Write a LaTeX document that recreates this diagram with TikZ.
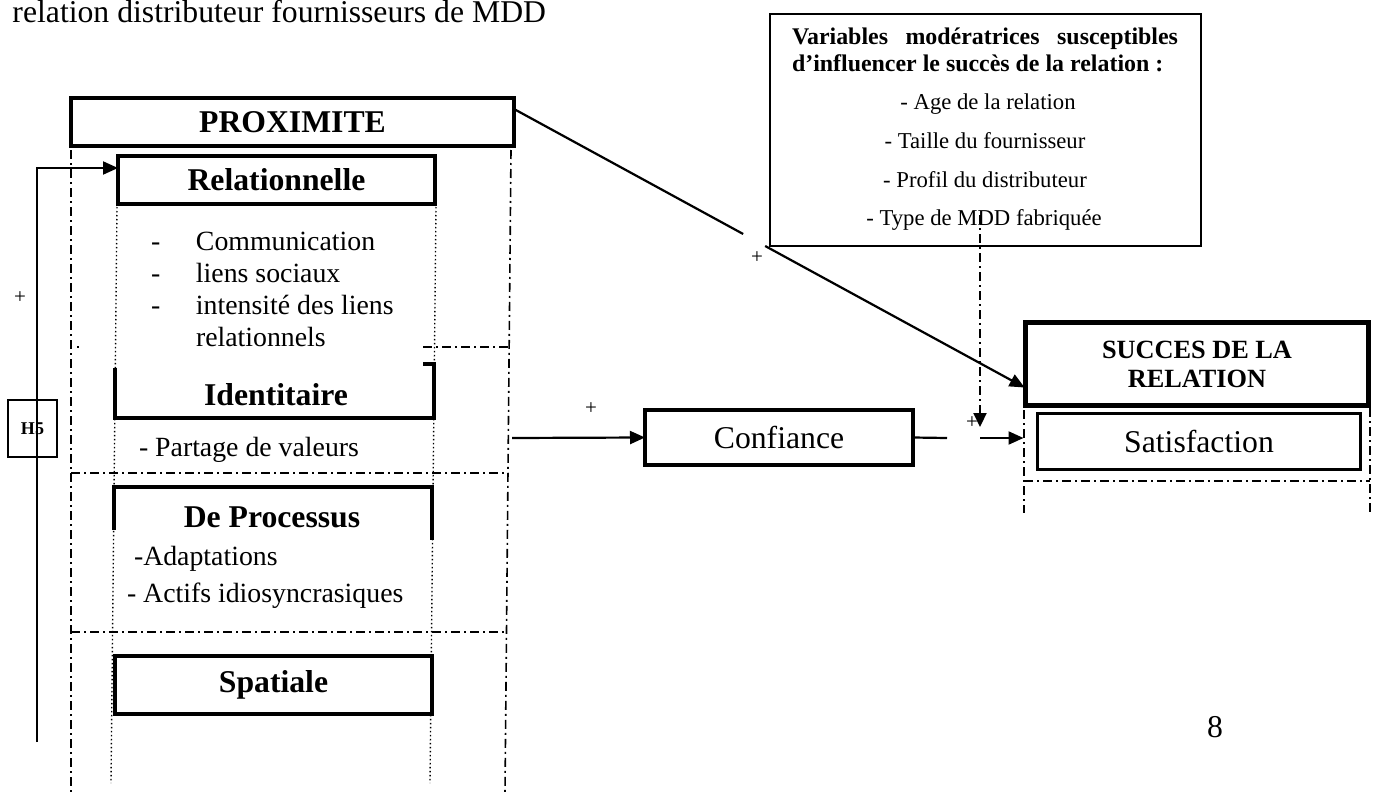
\documentclass[tikz,border=0pt]{standalone}
\usepackage{fontspec}
\setmainfont{Liberation Serif}
\usetikzlibrary{arrows.meta,calc}
\begin{document}
\begin{tikzpicture}[x=1pt,y=-1pt,
  every node/.style={inner sep=0pt, outer sep=0pt},
  boxthick/.style={draw, line width=4pt, inner sep=0pt, fill=white},
  ddash/.style={line width=1.6pt, dash pattern=on 9pt off 4pt on 2pt off 4pt},
  dotv/.style={line width=1.4pt, dash pattern=on 1.4pt off 2.6pt},
  conn/.style={line width=2.2pt},
  arr/.style={conn, -{Triangle[length=15pt,width=13pt]}},
  big/.style={font=\fontsize{31.7}{36}\selectfont},
  bigb/.style={font=\fontsize{31.7}{36}\selectfont\bfseries},
  itemtxt/.style={font=\fontsize{27.8}{32}\selectfont},
  plus/.style={font=\fontsize{21}{24}\selectfont},
  modi/.style={font=\fontsize{22.7}{26}\selectfont},
  modb/.style={font=\fontsize{23.9}{27}\selectfont\bfseries},
]
\useasboundingbox (0,0) rectangle (1377,792);

% column guide lines
\draw[ddash] (71,150) -- (71,792);
\draw[ddash] (511,150) -- (505,792);
\draw[ddash] (423,347) -- (510,347);
\draw[line width=1.6pt] (77,347) -- (79,347);
\draw[ddash] (71,473) -- (508,473);
\draw[ddash] (71,632) -- (506,632);
\draw[dotv] (117,207) -- (111,783);
\draw[dotv] (436,207) -- (430,783);
\draw[ddash] (1024,410) -- (1024,513);
\draw[ddash] (1370,408) -- (1370,513);
\draw[ddash] (1024,481) -- (1370,481);

% title
\node[big, anchor=base west] (title) at (12.5,23) {relation distributeur fournisseurs de MDD};

% left column
\node[boxthick, bigb, minimum width=443pt, minimum height=48pt] (prox) at (292.5,122) {PROXIMITE};
\node[boxthick, bigb, minimum width=317pt, minimum height=48pt] (rel) at (276.5,180) {Relationnelle};
\node[itemtxt, anchor=base west] (rellist) at (151,250)
  {\begin{tabular}[t]{@{}p{45pt}@{}l@{}}-&Communication\\-&liens sociaux\\-&intensité des liens\\&relationnels\end{tabular}};

\draw[line width=4pt] (115,368) -- (115,418) -- (434,418) -- (434,364) -- (423,364);
\node[bigb, anchor=base] (ident) at (276,405) {Identitaire};
\node[itemtxt, anchor=base west] (partage) at (139,456) {- Partage de valeurs};

\draw[line width=4pt] (114,530) -- (114,487) -- (432,487) -- (432,540);
\node[bigb, anchor=base] (proc) at (272,527) {De Processus};
\node[itemtxt, anchor=base west] (adapt) at (134,565) {-Adaptations};
\node[itemtxt, anchor=base west] (actifs) at (127,602) {- Actifs idiosyncrasiques};

\node[boxthick, bigb, minimum width=317pt, minimum height=58pt] (spat) at (273.5,685) {Spatiale};

% H5 and feedback
\node[draw, line width=1.3pt, minimum width=49pt, minimum height=57pt, font=\fontsize{18}{20}\selectfont\bfseries] (h5) at (32.5,428.5) {H5};
\coordinate (fbs) at (37,742);
\coordinate (fbt) at (37,168);
\draw[arr, line width=2pt] (fbs) -- (fbt) -- (fbt -| rel.west);
\node[plus] (plusfb) at (20,298) {+};

% moderator box
\node[draw, line width=2pt, fill=white, minimum width=431pt, minimum height=232pt] (mod) at (985.5,130) {};
\node[modb, anchor=base west] (modt1) at (792,45) {\makebox[386pt][s]{Variables modératrices susceptibles}};
\node[modb, anchor=base west] (modt2) at (792,72) {d’influencer le succès de la relation :};
\node[modi, anchor=base] (m1) at (988,110) {- Age de la relation};
\node[modi, anchor=base] (m2) at (985,148) {- Taille du fournisseur};
\node[modi, anchor=base] (m3) at (985,187) {- Profil du distributeur};
\node[modi, anchor=base] (m4) at (984,225) {- Type de MDD fabriquée};

% central and right boxes
\node[boxthick, big, minimum width=268pt, minimum height=55pt] (conf) at (779,437.5) {Confiance};
\node[draw, line width=3pt, fill=white, big, minimum width=323pt, minimum height=56pt] (sat) at (1199,441.5) {Satisfaction};
\node[draw, line width=5pt, fill=white, align=center, font=\fontsize{26.3}{29}\selectfont\bfseries, minimum width=343pt, minimum height=83pt] (succ) at (1197,364) {SUCCES DE LA\\RELATION};

% connectors
\coordinate (cs) at (512,438);
\draw[arr] (cs) -- (conf.west);
\node[plus] (plusc) at (591,409) {+};

\coordinate (c1) at (947,438);
\coordinate (c2) at (980,438);
\draw[conn] (conf.east) -- (c1);
\draw[arr, shorten >=14pt] (c2) -- (c2 -| sat.west);
\node[plus] (pluss) at (972,423) {+};

\coordinate (pa) at ([yshift=-11pt]prox.north east);
\coordinate (pb) at ([yshift=-24pt]succ.west);
\coordinate (ga) at ($(pa)!0.448!(pb)$);
\coordinate (gb) at ($(pa)!0.491!(pb)$);
\draw[conn] (pa) -- (ga);
\draw[arr, shorten >=1pt] (gb) -- (pb);
\node[plus] (plusd) at (757,258) {+};

\coordinate (ms) at (980,215);
\coordinate (me) at (980,427);
\draw[ddash, line width=2.2pt, -{Triangle[length=14pt,width=13pt]}] (ms) -- (me);

\node[big, anchor=base west] (pg) at (1207,737) {8};
\end{tikzpicture}
\end{document}
